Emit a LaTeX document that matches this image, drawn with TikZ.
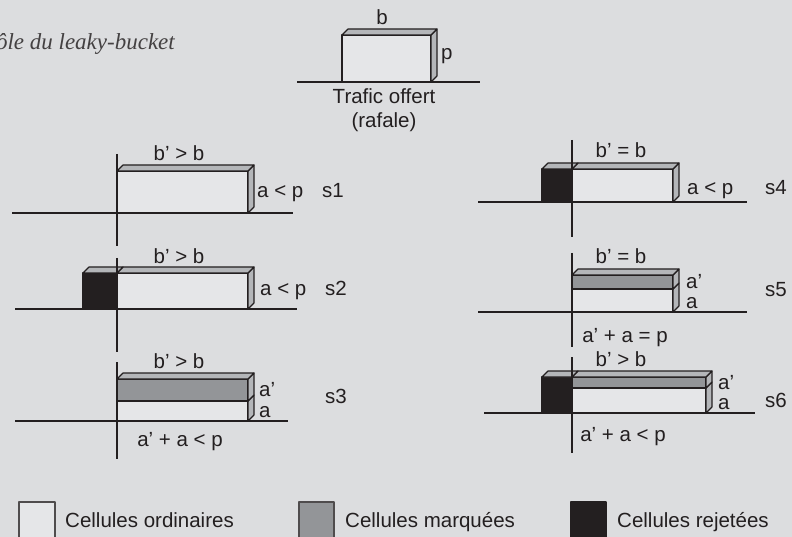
\documentclass[tikz,border=0pt]{standalone}
\usepackage{fontspec}
\setmainfont{Liberation Sans}
\newfontfamily\titrefont{Liberation Serif}
\usetikzlibrary{positioning}
\definecolor{fond}{HTML}{DCDDDF}
\definecolor{ordin}{HTML}{E5E6E8}
\definecolor{marque}{HTML}{939598}
\definecolor{rejet}{HTML}{231F20}
\definecolor{face}{HTML}{B4B6B9}
\definecolor{trait}{HTML}{231F20}
\tikzstyle{lbl} = [inner sep=0pt, 
anchor=base, 
font=\fontsize{20.5}{24}\selectfont, 
text=trait]
\tikzstyle{lblw} = [lbl, anchor=base west]
\tikzstyle{titre} = [inner sep=0pt, 
anchor=base east, 
font={\titrefont\itshape\fontsize{23}{27}\selectfont}, 
text=trait!85]
\tikzstyle{axe} = [draw=trait, line width=1.1pt]
\tikzstyle{bord} = [draw=trait, line width=1.1pt, line join=round]
% couche : x1, x2, y haut, y bas, remplissage
\newcommand{\couche}[5]{%
\filldraw[bord, fill=#5] (#1,#3) rectangle (#2,#4);
\filldraw[bord, fill=face] (#2,#3) -- ++(6,-6) -- ++(0,{#4-#3}) -- (#2,#4) -- cycle;}
% dessus : x1, x2, y haut
\newcommand{\dessus}[3]{%
\filldraw[bord, fill=face] (#1,#3) -- ++(6,-6) -- ++({#2-#1},0) -- (#2,#3) -- cycle;}

\begin{document}
\begin{tikzpicture}[x=1pt, y=-1pt]
\fill[fond] (0,0) rectangle (792,537);
\clip (0,0) rectangle (792,537);

\node (titre) [titre] at (175,50) {Contrôle du leaky-bucket};

% trafic offert
\draw[axe] (297,82) -- (480,82);
\couche{342}{431}{35}{82}{ordin}
\dessus{342}{431}{35}
\node (b0) [lbl] at (382,25) {b};
\node (p0) [lblw] at (441,60) {p};
\node (trafic) [lbl] at (384,104) {Trafic offert};
\node (rafale) [lbl] at (384,128) {(rafale)};

% s1
\draw[axe] (12,213) -- (293,213);
\couche{117}{248}{171}{213}{ordin}
\dessus{117}{248}{171}
\draw[axe] (117,154) -- (117,246);
\node (b1) [lbl] at (179,161) {b’ > b};
\node (a1) [lblw] at (257,198) {a < p};
\node (s1) [lblw] at (322,198) {s1};

% s2
\draw[axe] (15,309) -- (297,309);
\couche{117}{248}{273}{309}{ordin}
\dessus{117}{248}{273}
\filldraw[bord, fill=rejet] (83,273) rectangle (117,309);
\dessus{83}{117}{273}
\draw[axe] (117,258) -- (117,352);
\node (b2) [lbl] at (179,264) {b’ > b};
\node (a2) [lblw] at (260,295) {a < p};
\node (s2) [lblw] at (325,295) {s2};

% s3
\draw[axe] (15,421) -- (288,421);
\couche{117}{248}{401}{421}{ordin}
\couche{117}{248}{379}{401}{marque}
\dessus{117}{248}{379}
\draw[axe] (117,362) -- (117,459);
\node (b3) [lbl] at (179,368) {b’ > b};
\node (am3) [lblw] at (259,396) {a’};
\node (a3) [lblw] at (259,417) {a};
\node (s3) [lblw] at (325,403) {s3};
\node (c3) [lbl] at (180,446) {a’ + a < p};

% s4
\draw[axe] (478,202) -- (747,202);
\couche{572}{673}{169}{202}{ordin}
\dessus{572}{673}{169}
\filldraw[bord, fill=rejet] (542,169) rectangle (572,202);
\dessus{542}{572}{169}
\draw[axe] (572,140) -- (572,237);
\node (b4) [lbl] at (621,158) {b’ = b};
\node (a4) [lblw] at (687,195) {a < p};
\node (s4) [lblw] at (765,195) {s4};

% s5
\draw[axe] (478,312) -- (747,312);
\couche{572}{673}{289}{312}{ordin}
\couche{572}{673}{275}{289}{marque}
\dessus{572}{673}{275}
\draw[axe] (572,253) -- (572,347);
\node (b5) [lbl] at (621,264) {b’ = b};
\node (am5) [lblw] at (686,288) {a’};
\node (a5) [lblw] at (686,308) {a};
\node (s5) [lblw] at (765,296) {s5};
\node (c5) [lbl] at (625,342) {a’ + a = p};

% s6
\draw[axe] (484,413) -- (755,413);
\couche{572}{706}{388}{413}{ordin}
\couche{572}{706}{377}{388}{marque}
\dessus{572}{706}{377}
\filldraw[bord, fill=rejet] (542,377) rectangle (572,413);
\dessus{542}{572}{377}
\draw[axe] (572,357) -- (572,453);
\node (b6) [lbl] at (621,366) {b’ > b};
\node (am6) [lblw] at (718,389) {a’};
\node (a6) [lblw] at (718,409) {a};
\node (s6) [lblw] at (765,407) {s6};
\node (c6) [lbl] at (623,441) {a’ + a < p};

% legende
\filldraw[bord, draw=trait!80, fill=ordin] (19,502) rectangle (55,545);
\filldraw[bord, draw=trait!80, fill=marque] (299,502) rectangle (334,545);
\filldraw[bord, fill=rejet] (571,502) rectangle (606,545);
\node (ord) [lblw] at (65,527) {Cellules ordinaires};
\node (marq) [lblw] at (345,527) {Cellules marquées};
\node (rej) [lblw] at (617,527) {Cellules rejetées};

\end{tikzpicture}
\end{document}
